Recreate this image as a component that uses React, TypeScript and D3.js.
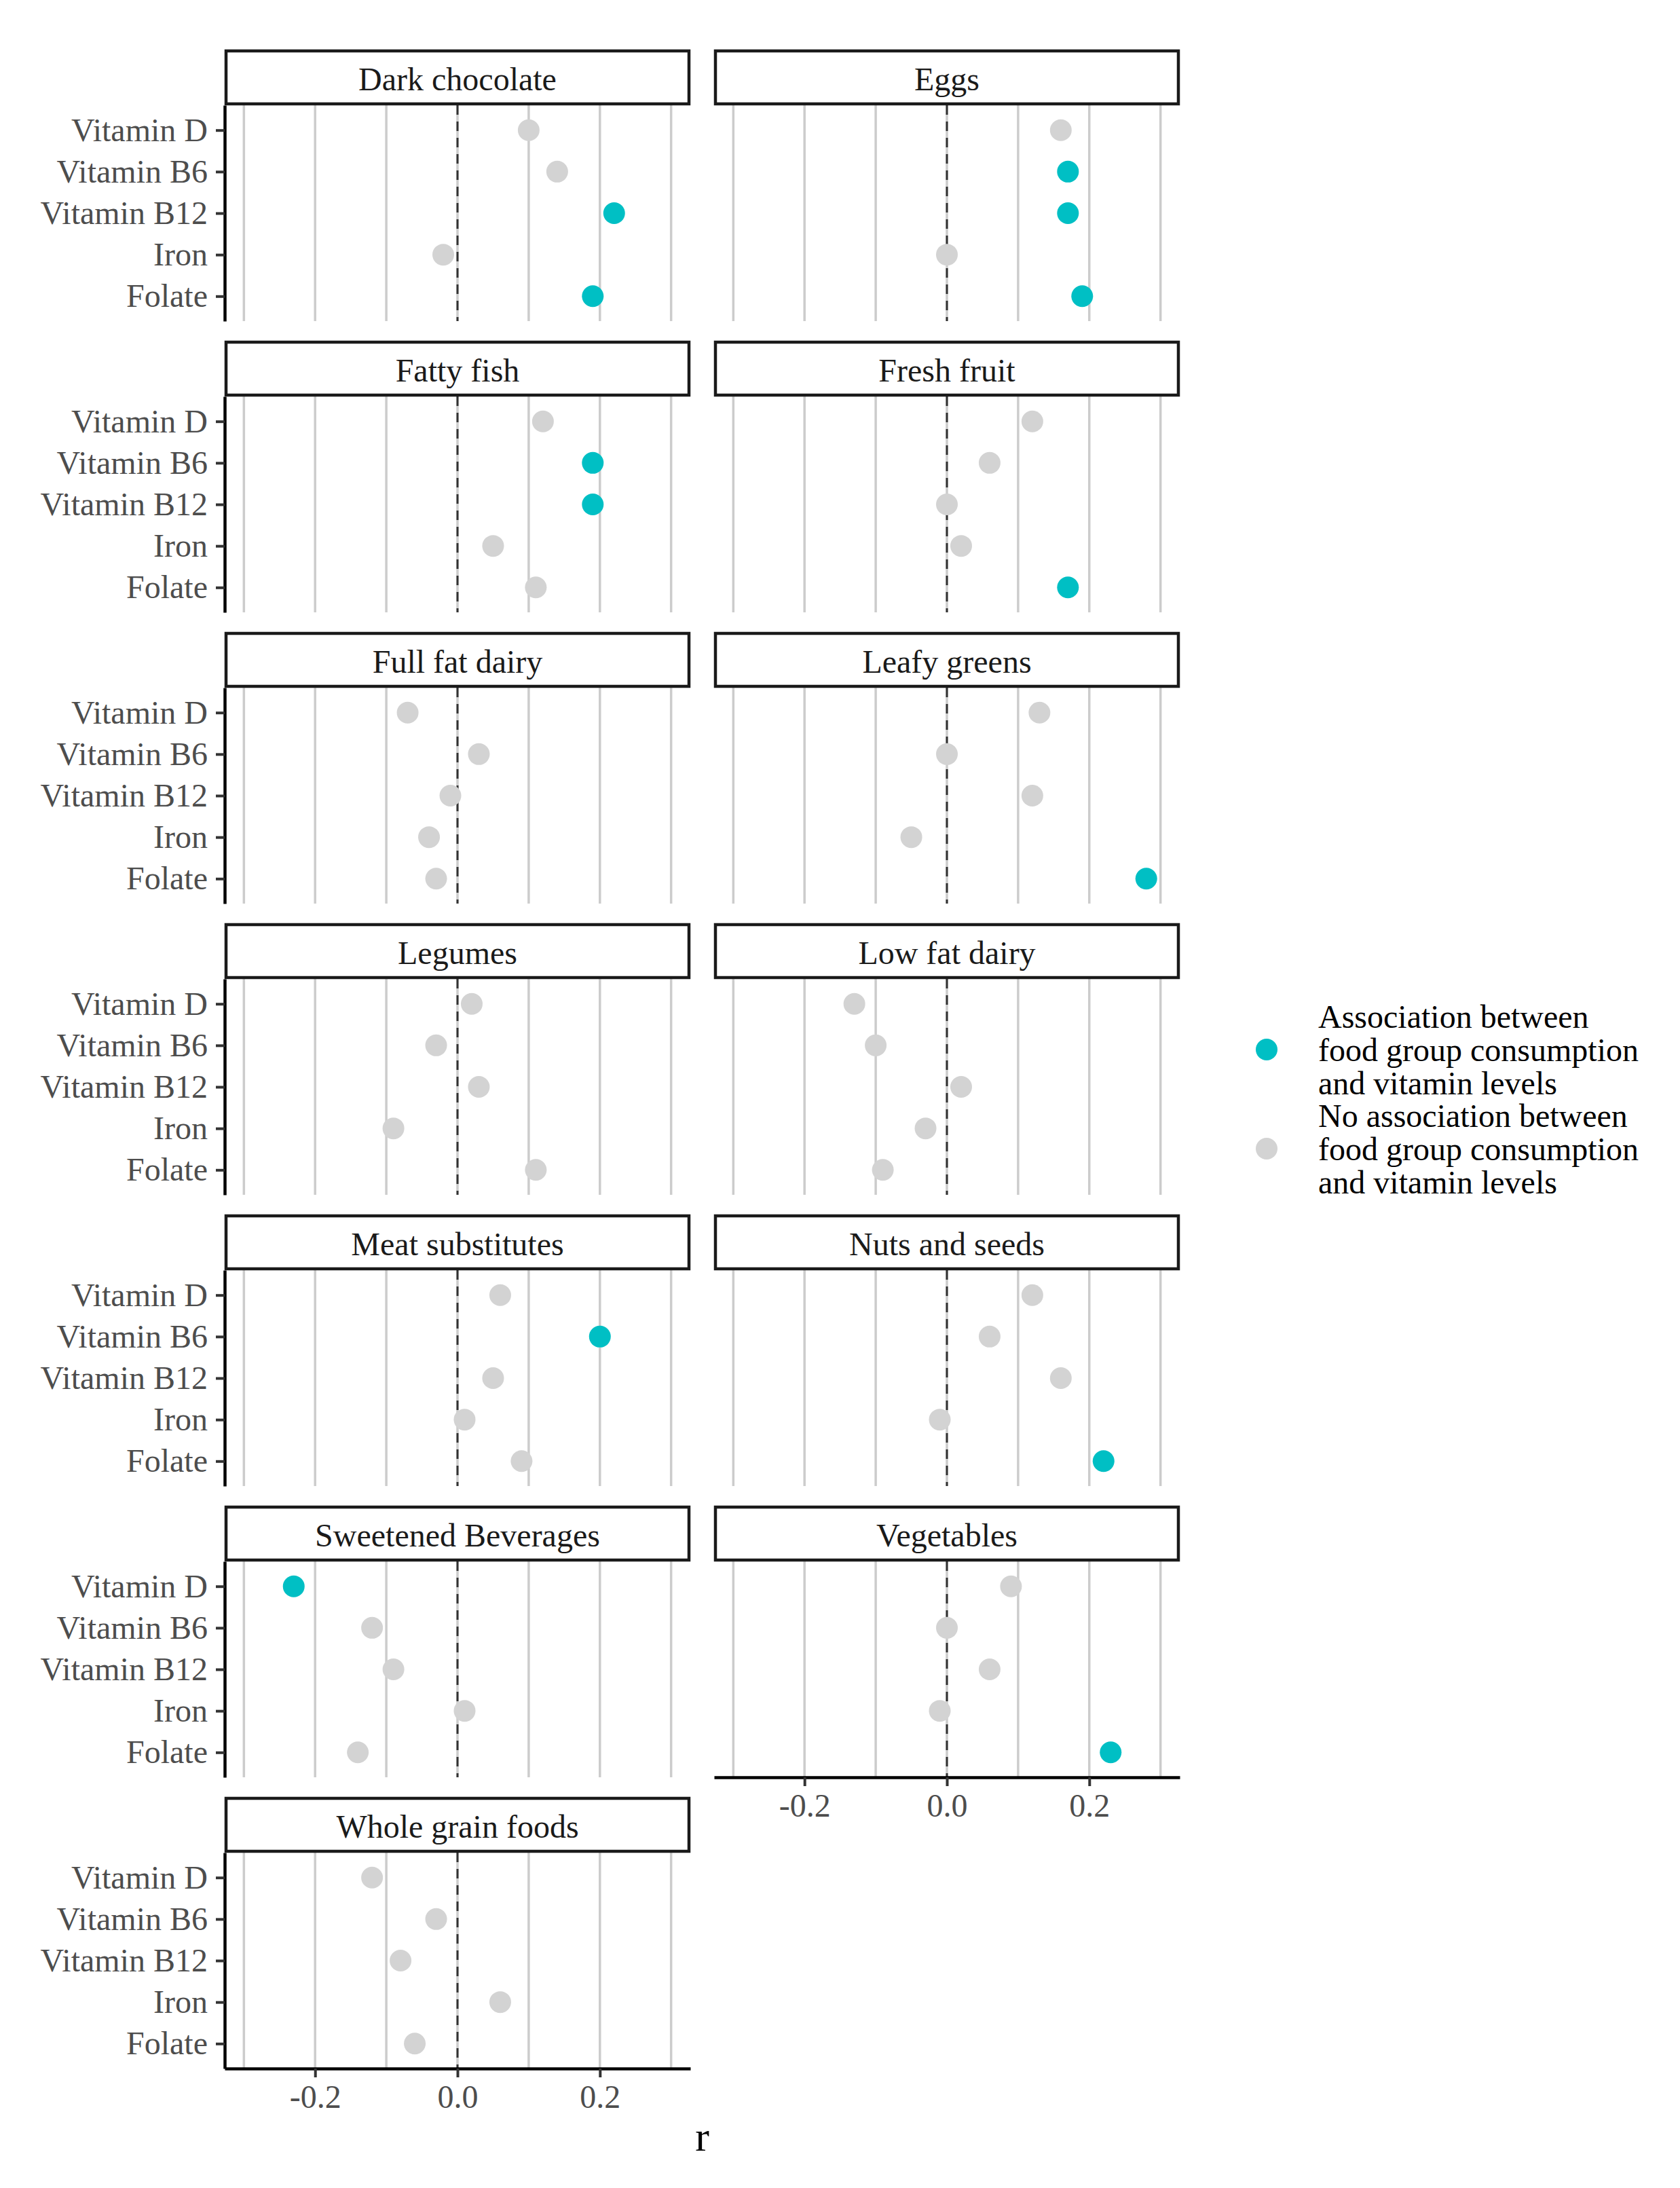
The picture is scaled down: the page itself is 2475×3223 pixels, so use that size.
import React, { useEffect, useRef } from "react";
import * as d3 from "d3";

// facet order (facet_wrap, ncol = 2)
const foods = [
  "Dark chocolate",
  "Eggs",
  "Fatty fish",
  "Fresh fruit",
  "Full fat dairy",
  "Leafy greens",
  "Legumes",
  "Low fat dairy",
  "Meat substitutes",
  "Nuts and seeds",
  "Sweetened Beverages",
  "Vegetables",
  "Whole grain foods",
];

const nutrients = ["Vitamin D", "Vitamin B6", "Vitamin B12", "Iron", "Folate"];

// correlation r, in nutrient order
const rDarkChocolate = [0.1, 0.14, 0.22, -0.02, 0.19];
const rEggs = [0.16, 0.17, 0.17, 0.0, 0.19];
const rFattyFish = [0.12, 0.19, 0.19, 0.05, 0.11];
const rFreshFruit = [0.12, 0.06, 0.0, 0.02, 0.17];
const rFullFatDairy = [-0.07, 0.03, -0.01, -0.04, -0.03];
const rLeafyGreens = [0.13, 0.0, 0.12, -0.05, 0.28];
const rLegumes = [0.02, -0.03, 0.03, -0.09, 0.11];
const rLowFatDairy = [-0.13, -0.1, 0.02, -0.03, -0.09];
const rMeatSubstitutes = [0.06, 0.2, 0.05, 0.01, 0.09];
const rNutsSeeds = [0.12, 0.06, 0.16, -0.01, 0.22];
const rSweetened = [-0.23, -0.12, -0.09, 0.01, -0.14];
const rVegetables = [0.09, 0.0, 0.06, -0.01, 0.23];
const rWholeGrain = [-0.12, -0.03, -0.08, 0.06, -0.06];

// 1 = association, 0 = no association
const sigDarkChocolate = [0, 0, 1, 0, 1];
const sigEggs = [0, 1, 1, 0, 1];
const sigFattyFish = [0, 1, 1, 0, 0];
const sigFreshFruit = [0, 0, 0, 0, 1];
const sigFullFatDairy = [0, 0, 0, 0, 0];
const sigLeafyGreens = [0, 0, 0, 0, 1];
const sigLegumes = [0, 0, 0, 0, 0];
const sigLowFatDairy = [0, 0, 0, 0, 0];
const sigMeatSubstitutes = [0, 1, 0, 0, 0];
const sigNutsSeeds = [0, 0, 0, 0, 1];
const sigSweetened = [1, 0, 0, 0, 0];
const sigVegetables = [0, 0, 0, 0, 1];
const sigWholeGrain = [0, 0, 0, 0, 0];

const rValues = [
  rDarkChocolate, rEggs, rFattyFish, rFreshFruit, rFullFatDairy, rLeafyGreens,
  rLegumes, rLowFatDairy, rMeatSubstitutes, rNutsSeeds, rSweetened, rVegetables, rWholeGrain,
];
const sigValues = [
  sigDarkChocolate, sigEggs, sigFattyFish, sigFreshFruit, sigFullFatDairy, sigLeafyGreens,
  sigLegumes, sigLowFatDairy, sigMeatSubstitutes, sigNutsSeeds, sigSweetened, sigVegetables, sigWholeGrain,
];

const legendLabels = [
  ["Association between", "food group consumption", "and vitamin levels"],
  ["No association between", "food group consumption", "and vitamin levels"],
];
const xTicks = [-0.2, 0, 0.2];
const gridValues = [-0.3, -0.2, -0.1, 0, 0.1, 0.2, 0.3];

const colors = ["#00BFC4", "#D3D3D3"];

export default function App() {
  const svgRef = useRef<SVGSVGElement>(null);

  useEffect(() => {
    const width = 2475;
    const height = 3223;
    const font = "'Liberation Serif', 'Times New Roman', serif";
    const colLeft = [331, 1052];
    const panelW = 686;
    const stripTop0 = 73;
    const stripH = 82;
    const panelH = 318;
    const rowStep = 429;

    const svg = d3.select(svgRef.current);
    svg.selectAll("*").remove();
    svg.attr("viewBox", `0 0 ${width} ${height}`);

    svg.append("rect").attr("width", width).attr("height", height).attr("fill", "white");

    const x = d3.scaleLinear().domain([-0.327, 0.327]).range([0, panelW]);
    const y = d3.scalePoint<string>().domain(nutrients).range([0, panelH]).padding(0.6);

    const fmt = (d: number) => (d < 0 ? "-" : "") + Math.abs(d).toFixed(1);

    foods.forEach((food, i) => {
      const col = i % 2;
      const row = Math.floor(i / 2);
      const left = colLeft[col];
      const stripTop = stripTop0 + row * rowStep;
      const top = stripTop + stripH;
      const isBottom = i === foods.length - 1 || i === foods.length - 2;

      const g = svg.append("g").attr("transform", `translate(${left},${top})`);

      // grid lines
      g.selectAll("line.grid")
        .data(gridValues)
        .join("line")
        .attr("class", "grid")
        .attr("x1", (d) => x(d))
        .attr("x2", (d) => x(d))
        .attr("y1", 0)
        .attr("y2", panelH)
        .attr("stroke", "#CCCCCC")
        .attr("stroke-width", 3.5);

      // zero reference
      g.append("line")
        .attr("x1", x(0))
        .attr("x2", x(0))
        .attr("y1", 0)
        .attr("y2", panelH)
        .attr("stroke", "#333333")
        .attr("stroke-width", 3)
        .attr("stroke-dasharray", "14,10");

      const pts = nutrients.map((n, j) => ({ n, r: rValues[i][j], sig: sigValues[i][j] }));
      g.selectAll("circle")
        .data(pts)
        .join("circle")
        .attr("cx", (d) => x(d.r))
        .attr("cy", (d) => y(d.n)!)
        .attr("r", 16)
        .attr("fill", (d) => (d.sig ? colors[0] : colors[1]));

      // y axis on left column
      if (col === 0) {
        const ay = g.append("g").call(d3.axisLeft(y).tickSize(13).tickSizeOuter(0).tickPadding(12));
        ay.select(".domain").attr("stroke", "black").attr("stroke-width", 4.5);
        ay.selectAll(".tick line").attr("stroke", "#333333").attr("stroke-width", 4);
        ay.selectAll(".tick text")
          .attr("fill", "#4D4D4D")
          .style("font-family", font)
          .style("font-size", "48px");
      }

      if (isBottom) {
        const ax = g
          .append("g")
          .attr("transform", `translate(0,${panelH})`)
          .call(d3.axisBottom(x).tickValues(xTicks).tickFormat((d) => fmt(d as number)).tickSize(13).tickSizeOuter(0).tickPadding(11));
        ax.select(".domain").attr("stroke", "black").attr("stroke-width", 4.5);
        ax.selectAll(".tick line").attr("stroke", "#333333").attr("stroke-width", 4);
        ax.selectAll(".tick text")
          .attr("fill", "#4D4D4D")
          .style("font-family", font)
          .style("font-size", "48px");
      }

      // strip
      svg
        .append("rect")
        .attr("x", left + 2)
        .attr("y", stripTop + 2)
        .attr("width", panelW - 4)
        .attr("height", stripH - 4)
        .attr("fill", "white")
        .attr("stroke", "#1A1A1A")
        .attr("stroke-width", 4.5);
      svg
        .append("text")
        .attr("x", left + panelW / 2)
        .attr("y", stripTop + stripH / 2 + 2)
        .attr("dy", "0.35em")
        .attr("text-anchor", "middle")
        .attr("fill", "#1A1A1A")
        .style("font-family", font)
        .style("font-size", "48px")
        .text(food);
    });

    // x axis title
    svg
      .append("text")
      .attr("x", (colLeft[0] + colLeft[1] + panelW) / 2)
      .attr("y", 3168)
      .attr("text-anchor", "middle")
      .attr("fill", "black")
      .style("font-family", font)
      .style("font-size", "62px")
      .text("r");

    // legend
    legendLabels.forEach((lines, k) => {
      const cy = 1546 + k * 146;
      svg.append("circle").attr("cx", 1866).attr("cy", cy).attr("r", 16).attr("fill", colors[k]);
      lines.forEach((t, m) => {
        svg
          .append("text")
          .attr("x", 1942)
          .attr("y", cy + (m - 1) * 49)
          .attr("dy", "0.35em")
          .attr("fill", "black")
          .style("font-family", font)
          .style("font-size", "48px")
          .text(t);
      });
    });
  }, []);

  return (
    <svg
      ref={svgRef}
      width={2475}
      height={3223}
      style={{ position: "absolute", left: 0, top: 0, display: "block" }}
    ></svg>
  );
}
